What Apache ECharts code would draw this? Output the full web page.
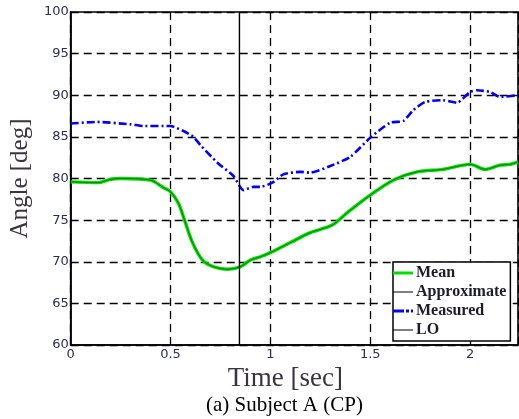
<!DOCTYPE html>
<html>
<head>
<meta charset="utf-8">
<script src="https://cdn.jsdelivr.net/npm/echarts@6/dist/echarts.min.js"></script>
<style>
  html, body { margin: 0; padding: 0; background: #fff; }
  #chart { width: 519px; height: 419px; }
</style>
</head>
<body>
<div id="chart"></div>
<script>
// Knee angle over the gait cycle, subject A (CP)
const meanTime  = [0, 0.135, 0.2, 0.25, 0.4, 0.465, 0.5, 0.54, 0.57, 0.61, 0.66, 0.715, 0.785, 0.85, 0.9, 0.95, 1.0, 1.1, 1.2, 1.31, 1.385, 1.5, 1.615, 1.735, 1.865, 2.0, 2.075, 2.15, 2.2, 2.24];
const meanAngle = [79.6, 79.5, 79.9, 80.0, 79.8, 78.9, 78.4, 77.0, 75.0, 72.3, 70.2, 69.4, 69.1, 69.4, 70.2, 70.6, 71.1, 72.3, 73.5, 74.4, 75.9, 78.0, 79.8, 80.8, 81.1, 81.7, 81.1, 81.6, 81.7, 82.0];
const approxAngle = [79.6, 79.5, 79.9, 80.0, 79.8, 78.9, 78.4, 77.0, 75.0, 72.3, 70.2, 69.4, 69.1, 69.4, 70.2, 70.6, 71.1, 72.3, 73.5, 74.4, 75.9, 78.0, 79.8, 80.8, 81.1, 81.7, 81.1, 81.6, 81.7, 82.0];

const measuredTime  = [0, 0.13, 0.3, 0.365, 0.5, 0.565, 0.615, 0.65, 0.735, 0.815, 0.865, 0.915, 0.95, 1.01, 1.065, 1.15, 1.2, 1.3, 1.4, 1.5, 1.6, 1.665, 1.715, 1.775, 1.865, 1.935, 2.0, 2.035, 2.1, 2.15, 2.24];
const measuredAngle = [86.6, 86.8, 86.5, 86.3, 86.3, 85.7, 85.0, 84.0, 81.9, 80.3, 78.6, 79.0, 79.0, 79.5, 80.5, 80.8, 80.7, 81.5, 82.6, 84.9, 86.7, 86.9, 88.2, 89.2, 89.4, 89.1, 90.4, 90.6, 90.4, 89.8, 90.0];

// Lift-off instant
const liftOffTime = 0.845;

const xMin = 0, xMax = 2.24, xStep = 0.5;
const yMin = 60, yMax = 100, yStep = 5;

const pairs = (xs, ys) => xs.map((x, i) => [x, ys[i]]);

const tickFont = { fontFamily: 'DejaVu Sans', fontSize: 13, color: '#2c2c58' };
const gridDash = { color: '#000', width: 1.3, type: [8, 5] };

// Legend swatches: short horizontal strokes drawn as paths (20 x 3 box)
const swatchThick  = 'path://M0,0h20v3h-20z';
const swatchThin   = 'path://M0,1h20v1h-20z M0,0h0.01v3h-0.01z';
const swatchDashDt = 'path://M0,0h11v3h-11z M13,0h3v3h-3z M18,0h2v3h-2z';

const chart = echarts.init(document.getElementById('chart'), null, { renderer: 'canvas' });
chart.setOption({
  backgroundColor: '#fff',
  animation: false,
  grid: { left: 70, top: 12, right: 1, bottom: 74, show: true, borderColor: '#000', borderWidth: 1.6, backgroundColor: 'transparent' },
  xAxis: {
    type: 'value', min: xMin, max: xMax, interval: xStep,
    axisLine: { lineStyle: { color: '#000', width: 1.6 } },
    axisTick: { inside: true, length: 5, lineStyle: { color: '#000' } },
    axisLabel: Object.assign({ margin: 3, showMaxLabel: false }, tickFont),
    splitLine: { show: true, lineStyle: gridDash },
    name: 'Time [sec]', nameLocation: 'middle', nameGap: 16,
    nameTextStyle: { fontFamily: 'Liberation Serif', fontSize: 27, color: '#3a3340', padding: [0, 18, 0, 0], verticalAlign: 'top' }
  },
  yAxis: {
    type: 'value', min: yMin, max: yMax, interval: yStep,
    axisLine: { lineStyle: { color: '#000', width: 1.6 } },
    axisTick: { inside: true, length: 5, lineStyle: { color: '#000' } },
    axisLabel: Object.assign({ margin: 2 }, tickFont),
    splitLine: { show: true, lineStyle: gridDash },
    name: 'Angle [deg]', nameLocation: 'middle', nameRotate: 90, nameGap: 31,
    nameTextStyle: { fontFamily: 'Liberation Serif', fontSize: 25, color: '#3a3340' }
  },
  legend: {
    orient: 'vertical', left: 393, top: 262,
    padding: [3, 4, 3, 0], itemGap: 3, itemWidth: 22, itemHeight: 3, symbolKeepAspect: true,
    borderColor: '#000', borderWidth: 1.5, backgroundColor: '#fff',
    textStyle: { fontFamily: 'Liberation Serif', fontSize: 16, fontWeight: 'bold', color: '#1c1c2c', lineHeight: 16, padding: [0, 0, 0, -3] },
    data: [
      { name: 'Mean', icon: swatchThick, itemStyle: { color: '#00e000' } },
      { name: 'Approximate', icon: swatchThin, itemStyle: { color: '#000' } },
      { name: 'Measured', icon: swatchDashDt, itemStyle: { color: '#0000ff' } },
      { name: 'LO', icon: swatchThin, itemStyle: { color: '#000' } }
    ]
  },
  graphic: [{
    type: 'text', left: 206, top: 395,
    style: { text: '(a) Subject A (CP)', font: '21px "Liberation Serif"', fill: '#000' }
  }],
  series: [
    {
      name: 'Mean', type: 'line', data: pairs(meanTime, meanAngle), symbol: 'none', smooth: 0.3,
      lineStyle: { color: '#00e000', width: 3.4 }, itemStyle: { color: '#00e000' }, z: 3
    },
    {
      name: 'Approximate', type: 'line', data: pairs(meanTime, approxAngle), symbol: 'none', smooth: 0.3,
      lineStyle: { color: '#000', width: 0.6, opacity: 0.8 }, itemStyle: { color: '#000' }, z: 4
    },
    {
      name: 'Measured', type: 'line', data: pairs(measuredTime, measuredAngle), symbol: 'none', smooth: 0.2,
      lineStyle: { color: '#0000ff', width: 2.6, type: [8, 3, 2, 3] }, itemStyle: { color: '#0000ff' }, z: 3
    },
    {
      name: 'LO', type: 'line', data: [[liftOffTime, yMin], [liftOffTime, yMax]], symbol: 'none',
      lineStyle: { color: '#000', width: 1.4 }, itemStyle: { color: '#000' }, z: 4
    }
  ]
});
</script>
</body>
</html>
